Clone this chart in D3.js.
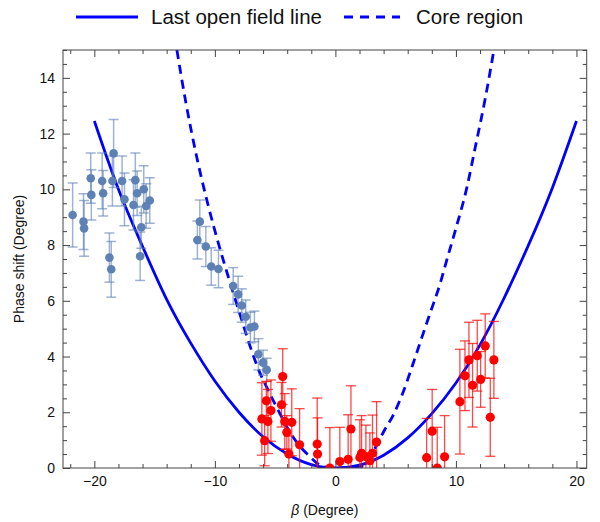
<!DOCTYPE html>
<html>
<head>
<meta charset="utf-8">
<script src="https://cdn.jsdelivr.net/npm/d3@7"></script>
<style>
  body { margin: 0; background: #fff; }
  svg { font-family: Arial, "Liberation Sans", sans-serif; }
</style>
</head>
<body>
<svg id="chart"></svg>
<script>
// blue data set (beta, phase shift, error), all in degree
const blueBeta = [-21.8, -20.9, -20.85, -20.3, -20.25, -19.35, -19.27, -18.75, -18.6, -18.4, -18.5,
  -17.7, -17.5, -16.75, -16.6, -16.45, -16.1, -16.2, -15.9, -15.7, -15.4,
  -11.25, -11.45, -10.75, -10.3, -9.7, -8.48, -8.07, -7.77, -7.44, -7.05, -6.72, -6.39, -6.0, -5.7];
const blueShift = [9.08, 8.84, 8.6, 10.4, 9.8, 10.3, 9.86, 7.55, 7.13, 11.29, 10.3,
  10.3, 9.64, 9.44, 10.33, 9.86, 8.64, 7.6, 10.0, 9.4, 9.6,
  8.84, 8.18, 7.95, 7.23, 7.14, 6.53, 6.23, 5.83, 5.43, 5.04, 5.08, 4.08, 3.78, 3.52];
const blueErr = [1.15, 1.0, 1.0, 0.9, 0.9, 1.0, 0.82, 0.88, 1.0, 1.22, 0.9,
  0.9, 0.95, 0.9, 0.97, 0.8, 0.75, 0.87, 0.85, 0.8, 0.82,
  0.78, 0.68, 0.72, 0.67, 0.67, 0.66, 0.65, 0.6, 0.6, 0.55, 0.55, 0.56, 0.45, 0.42];

// red data set
const redBeta = [-4.37, -5.73, -5.35, -6.1, -5.6, -5.87, -4.47, -4.2, -3.62, -4.03, -3.86, -2.97,
  -1.51, -1.48, -0.46, 0.37, 1.06, 1.29, 2.03, 2.17, 2.53, 2.86, 3.08, 3.42,
  7.57, 8.03, 8.45, 9.06, 10.33, 10.75, 11.08, 11.38, 11.77, 12.05, 12.43, 12.85, 13.15];
const redShift = [3.28, 2.41, 2.06, 1.76, 1.67, 0.98, 2.27, 1.67, 1.64, 1.28, 0.5, 0.83,
  0.86, 0.5, 0.0, 0.23, 0.31, 1.4, 0.38, 0.53, 0.41, 0.26, 0.53, 0.93,
  0.37, 1.32, 0.0, 0.4, 2.38, 3.31, 3.88, 2.97, 4.03, 3.18, 4.38, 1.82, 3.88];
const redErr = [1.0, 0.7, 1.1, 1.3, 1.15, 0.9, 0.8, 1.0, 1.2, 0.6, 0.65, 1.3,
  1.65, 1.3, 1.45, 1.23, 1.6, 1.55, 1.35, 1.35, 1.13, 1.0, 1.37, 1.45,
  1.41, 1.5, 1.46, 1.48, 1.88, 1.25, 1.35, 1.5, 1.27, 1.0, 1.15, 1.4, 1.38];

// last open field line
const lineBeta = [-20, -18, -16, -14, -12, -10, -8, -6, -4, -2, 0, 2, 4, 6, 8, 10, 12, 14, 16, 18, 20];
const lineShift = [12.45, 10.0, 7.95, 6.05, 4.48, 3.12, 2.0, 1.12, 0.5, 0.12, 0, 0.1, 0.46, 1.08, 1.95, 3.05, 4.42, 6.1, 7.98, 10.05, 12.45];

// core region
const coreBeta = [-13.15, -12.4, -11.5, -10.6, -9.6, -8.7, -7.8, -7.1, -6.3, -5.7, -4.9, -3.5, -2.1, -1.0, 0, 1.5,
  2.0, 2.6, 3.4, 4.0, 4.8, 5.6, 6.45, 7.3, 7.85, 8.68, 9.2, 9.9, 10.9, 11.6, 12.45, 13.15];
const coreShift = [15.0, 13.1, 11.15, 9.5, 7.9, 6.6, 5.35, 4.4, 3.45, 2.9, 2.2, 1.1, 0.4, 0.05, 0, 0,
  0.02, 0.2, 0.8, 1.3, 1.9, 2.7, 3.75, 4.85, 5.55, 6.6, 7.4, 8.45, 10.05, 11.5, 13.3, 15.0];

const xTicks = [-20, -10, 0, 10, 20];
const yTicks = [0, 2, 4, 6, 8, 10, 12, 14];
const legendLabels = ['Last open field line', 'Core region'];

const blueColor = '#5E81B5';
const redColor = '#FF0000';
const curveColor = '#0000FF';
const frameColor = '#444';

let w = 600, h = 522;
let margin = { top: 50, right: 13.3, bottom: 54, left: 63 };
let xScale, yScale, svg, plot;

function fmt(d) {
  return d < 0 ? '\u2212' + (-d) : String(d);
}

function drawErrors(data, color, width, op) {
  let g = plot.append('g');
  let bars = g.selectAll('g').data(data).enter().append('g')
    .attr('stroke', color)
    .attr('stroke-width', width)
    .attr('stroke-opacity', op);
  bars.append('line')
    .attr('x1', (d) => xScale(d.b)).attr('x2', (d) => xScale(d.b))
    .attr('y1', (d) => yScale(d.s - d.e)).attr('y2', (d) => yScale(d.s + d.e));
  // caps
  [1, -1].forEach((sgn) => {
    bars.append('line')
      .attr('x1', (d) => xScale(d.b) - 5).attr('x2', (d) => xScale(d.b) + 5)
      .attr('y1', (d) => yScale(d.s + sgn * d.e)).attr('y2', (d) => yScale(d.s + sgn * d.e));
  });
}

function drawPoints(data, color, r) {
  plot.append('g').selectAll('circle').data(data).enter().append('circle')
    .attr('cx', (d) => xScale(d.b))
    .attr('cy', (d) => yScale(d.s))
    .attr('r', r)
    .attr('fill', color);
}

function makeChart() {
  svg = d3.select('#chart').attr('width', w).attr('height', h);

  xScale = d3.scaleLinear().domain([-22.6, 20.85]).range([margin.left, w - margin.right]);
  yScale = d3.scaleLinear().domain([0, 15]).range([h - margin.bottom, margin.top]);

  let x0 = margin.left, x1 = w - margin.right;
  let y0 = h - margin.bottom, y1 = margin.top;

  svg.append('clipPath').attr('id', 'clip')
    .append('rect')
    .attr('x', x0).attr('y', y1)
    .attr('width', x1 - x0).attr('height', y0 - y1);

  plot = svg.append('g').attr('clip-path', 'url(#clip)');

  let line = d3.line()
    .x((d) => xScale(d[0]))
    .y((d) => yScale(d[1]));

  plot.append('path')
    .datum(lineBeta.map((b, i) => [b, lineShift[i]]))
    .attr('d', line.curve(d3.curveNatural))
    .attr('fill', 'none')
    .attr('stroke', curveColor)
    .attr('stroke-width', 2.8);

  plot.append('path')
    .datum(coreBeta.map((b, i) => [b, coreShift[i]]))
    .attr('d', line.curve(d3.curveMonotoneX))
    .attr('fill', 'none')
    .attr('stroke', curveColor)
    .attr('stroke-width', 2.8)
    .attr('stroke-dasharray', '9,6');

  let blue = blueBeta.map((b, i) => ({ b: b, s: blueShift[i], e: blueErr[i] }));
  let red = redBeta.map((b, i) => ({ b: b, s: redShift[i], e: redErr[i] }));

  drawErrors(blue, blueColor, 1.5, 0.6);
  drawErrors(red, redColor, 1.3, 0.72);
  drawPoints(blue, blueColor, 4.3);
  drawPoints(red, redColor, 4.6);

  // frame with inward ticks
  let minorX = d3.range(-22, 21, 2).filter((v) => !xTicks.includes(v));
  let minorY = d3.range(0, 15.01, 0.5).filter((v) => !yTicks.includes(v));

  let axes = [
    [d3.axisBottom(xScale), `translate(0,${y0})`, xTicks, minorX, true],
    [d3.axisTop(xScale), `translate(0,${y1})`, xTicks, minorX, false],
    [d3.axisLeft(yScale), `translate(${x0},0)`, yTicks, minorY, true],
    [d3.axisRight(yScale), `translate(${x1},0)`, yTicks, minorY, false]
  ];
  axes.forEach(([ax, tr, major, minor, labels]) => {
    let gMinor = svg.append('g').attr('transform', tr)
      .call(ax.tickValues(minor).tickSize(-4).tickFormat(''));
    gMinor.select('.domain').remove();
    let gMajor = svg.append('g').attr('transform', tr)
      .call(ax.tickValues(major).tickSize(-7).tickPadding(8).tickFormat(labels ? fmt : ''));
    gMajor.select('.domain').remove();
    svg.selectAll('.tick line').attr('stroke', frameColor);
    gMajor.selectAll('text')
      .attr('font-size', 14)
      .attr('fill', '#111')
      .attr('font-family', 'Arial, "Liberation Sans", sans-serif');
  });

  svg.append('rect')
    .attr('x', x0).attr('y', y1)
    .attr('width', x1 - x0).attr('height', y0 - y1)
    .attr('fill', 'none')
    .attr('stroke', frameColor)
    .attr('stroke-width', 1);

  // axis titles
  let xt = svg.append('text')
    .attr('x', (x0 + x1) / 2).attr('y', 515)
    .attr('text-anchor', 'middle')
    .attr('font-size', 14)
    .attr('fill', '#111');
  xt.append('tspan').attr('font-style', 'italic').text('\u03b2');
  xt.append('tspan').text(' (Degree)');

  svg.append('text')
    .attr('transform', `translate(24,${(y0 + y1) / 2}) rotate(-90)`)
    .attr('text-anchor', 'middle')
    .attr('font-size', 14)
    .attr('fill', '#111')
    .text('Phase shift (Degree)');

  // legend
  let legend = svg.append('g');
  legend.append('line')
    .attr('x1', 76).attr('x2', 138).attr('y1', 17).attr('y2', 17)
    .attr('stroke', curveColor).attr('stroke-width', 3);
  legend.append('text')
    .attr('x', 151).attr('y', 24)
    .attr('font-size', 20.5).attr('fill', '#111')
    .text(legendLabels[0]);
  legend.append('line')
    .attr('x1', 344).attr('x2', 400).attr('y1', 17).attr('y2', 17)
    .attr('stroke', curveColor).attr('stroke-width', 3)
    .attr('stroke-dasharray', '9,7');
  legend.append('text')
    .attr('x', 416).attr('y', 24)
    .attr('font-size', 20.5).attr('fill', '#111')
    .text(legendLabels[1]);
}

window.onload = function () {
  makeChart();
};
</script>
</body>
</html>
